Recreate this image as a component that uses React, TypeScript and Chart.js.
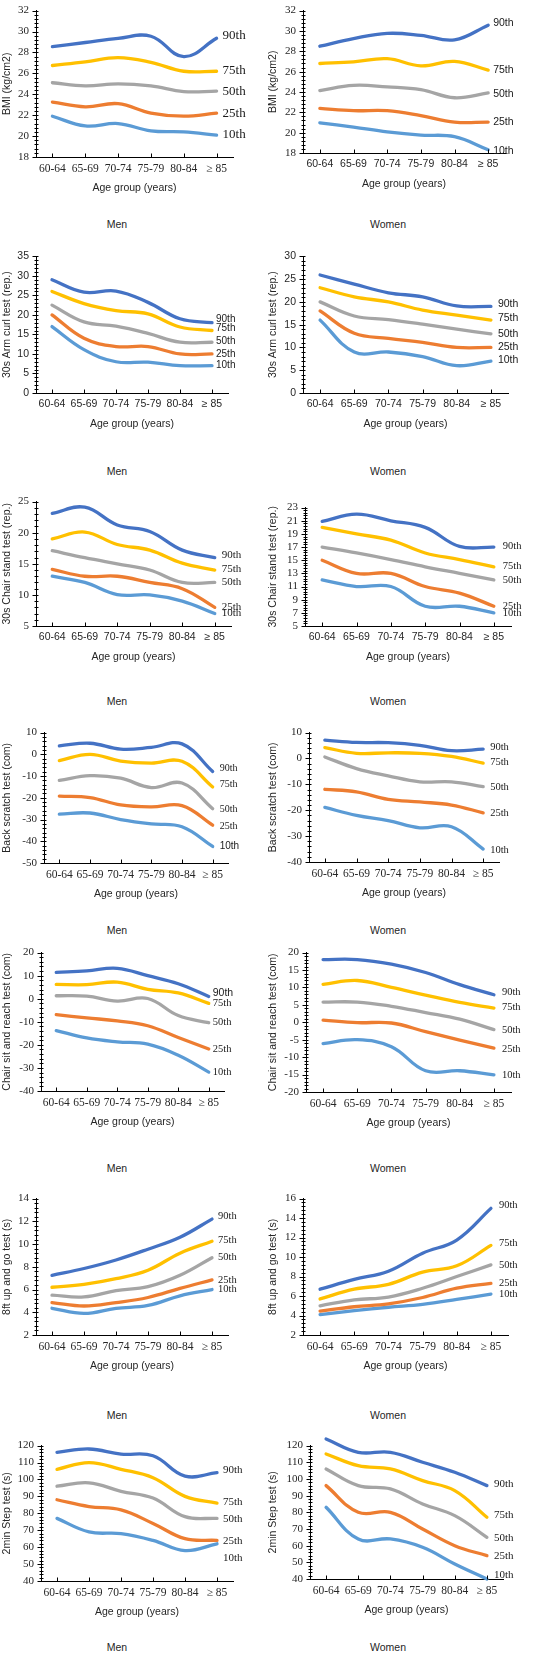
import React, { useEffect, useRef } from "react";
import { Chart, registerables } from "chart.js";

Chart.register(...registerables);

// ---------- data ----------
const ageGroups = ["60-64", "65-69", "70-74", "75-79", "80-84", "≥ 85"];
const percentiles = ["90th", "75th", "50th", "25th", "10th"];
const lineColors = ["#4472C4", "#FFC000", "#A5A5A5", "#ED7D31", "#5B9BD5"];

// rows: 90th, 75th, 50th, 25th, 10th
const bmiMen = [
  [28.55, 28.95, 29.35, 29.55, 27.6, 29.35],
  [26.75, 27.1, 27.5, 27.05, 26.2, 26.2],
  [25.1, 24.8, 25.0, 24.8, 24.25, 24.3],
  [23.25, 22.8, 23.1, 22.2, 21.9, 22.2],
  [21.9, 20.97, 21.2, 20.5, 20.4, 20.1],
];
const bmiWomen = [
  [28.5, 29.25, 29.76, 29.57, 29.12, 30.56],
  [26.8, 26.96, 27.27, 26.57, 27.0, 26.15],
  [24.14, 24.65, 24.5, 24.23, 23.43, 23.9],
  [22.38, 22.16, 22.16, 21.68, 21.04, 21.04],
  [20.97, 20.55, 20.08, 19.76, 19.6, 18.32],
];
const armMen = [
  [29, 25.8, 26.1, 23.2, 19, 18],
  [26, 22.9, 21.1, 20.25, 16.9, 16],
  [22.5, 18.2, 17.1, 15.25, 13, 13],
  [20, 14, 11.9, 11.9, 10, 10],
  [17, 11.1, 8, 7.9, 7, 7],
];
const armWomen = [
  [25.9, 23.9, 22, 21.1, 19.1, 19],
  [23.1, 21.1, 20, 18.2, 17.1, 16],
  [20, 16.9, 16.1, 15.1, 14, 13],
  [18, 13.1, 12, 11.1, 10, 10],
  [16, 9, 9, 8, 6, 7],
];
const chairMen = [
  [23.1, 24.1, 21.25, 20.2, 17.2, 16],
  [19, 20.1, 18.1, 17.2, 15.1, 14],
  [17.1, 16, 15, 14, 12, 12],
  [14.1, 13, 13, 12, 11, 8],
  [13, 12, 10.05, 10, 9, 7],
];
const chairWomen = [
  [20.9, 22, 21, 20, 17.1, 17],
  [20, 19, 18.05, 16.1, 15.1, 14],
  [17, 16.1, 15.1, 14, 13, 12],
  [15, 13, 13, 11, 10, 8],
  [12, 11, 11, 8, 8, 7],
];
const backMen = [
  [3.9, 5.1, 2.4, 3.2, 4.8, -7.9],
  [-2.9, 0, -3.1, -4, -3.2, -15],
  [-12, -9.8, -11, -15.3, -13.2, -25],
  [-19.2, -19.9, -23.3, -24.2, -23.6, -32.6],
  [-27.5, -27, -30, -32, -33.3, -42.4],
];
const backWomen = [
  [7.1, 6.2, 6.1, 5.1, 3, 3.6],
  [4.2, 2, 2.2, 2, 0.8, -1.8],
  [0.6, -3.9, -6.7, -9, -9, -10.9],
  [-11.9, -12.9, -15.8, -16.8, -18, -21],
  [-18.9, -22, -24, -26.8, -26.4, -35],
];
const reachMen = [
  [11.4, 12.1, 13.2, 10, 6.5, 1],
  [6.2, 6.1, 7.2, 4.1, 2.5, -2],
  [1.3, 1.1, -1, 0.1, -7.3, -10.4],
  [-6.9, -8.3, -9.6, -11.7, -16.8, -21.8],
  [-13.8, -17, -18.7, -19.7, -24.5, -31.8],
];
const reachWomen = [
  [18, 18, 16.7, 14.3, 10.8, 7.9],
  [10.9, 12, 10, 7.8, 5.7, 4.1],
  [5.8, 5.8, 4.6, 2.8, 0.9, -2.1],
  [0.6, -0.1, -0.2, -2.7, -5.1, -7.4],
  [-6.1, -5, -7, -13.9, -13.9, -15.1],
];
const tugMen = [
  [7.25, 7.85, 8.6, 9.55, 10.6, 12.2],
  [6.2, 6.45, 6.95, 7.7, 9.2, 10.25],
  [5.5, 5.35, 5.9, 6.25, 7.25, 8.8],
  [4.85, 4.55, 4.85, 5.3, 6.1, 6.85],
  [4.35, 3.9, 4.35, 4.6, 5.45, 6.0],
];
const tugWomen = [
  [6.7, 7.7, 8.55, 10.4, 11.75, 15],
  [5.7, 6.7, 7.2, 8.45, 9.1, 11.2],
  [5.0, 5.6, 5.9, 6.8, 8.0, 9.2],
  [4.45, 4.9, 5.2, 5.85, 6.8, 7.3],
  [4.1, 4.5, 4.85, 5.15, 5.65, 6.2],
];
const stepMen = [
  [116, 118, 115, 114, 102, 104],
  [106, 110, 106, 101, 90, 86],
  [96, 98, 93, 89, 78, 77],
  [88, 84, 82, 74, 65, 64],
  [77, 69, 68, 64, 58, 62],
];
const stepWomen = [
  [124, 116, 116, 110, 104, 96],
  [115, 108, 106, 99, 93, 77],
  [106, 96, 94, 85, 78, 65],
  [96, 80, 80, 70, 60, 54],
  [83, 64, 64, 59, 49, 40],
];

// y axis ranges: [min, max, step]
const bmiMenAxis = [18, 32, 2];
const bmiWomenAxis = [18, 32, 2];
const armMenAxis = [0, 35, 5];
const armWomenAxis = [0, 30, 5];
const chairMenAxis = [5, 25, 5];
const chairWomenAxis = [5, 23, 2];
const backMenAxis = [-50, 10, 10];
const backWomenAxis = [-40, 10, 10];
const reachMenAxis = [-40, 20, 10];
const reachWomenAxis = [-20, 20, 5];
const tugMenAxis = [2, 14, 2];
const tugWomenAxis = [2, 16, 2];
const stepMenAxis = [40, 120, 10];
const stepWomenAxis = [40, 120, 10];

const xTitle = "Age group (years)";
const captions = ["Men", "Women"];

// ---------- styles ----------
const SERIF = "'Liberation Serif', 'Times New Roman', serif";
const SANS = "'Liberation Sans', Arial, sans-serif";
const TEXT = "#262626";

type Fam = "serif" | "sans";
interface PanelSpec {
  data: number[][];
  axis: number[];
  yTitle: string;
  col: number;
  top: number;
  bottom: number;
  axisX: number;
  right: number;
  yFont: Fam;
  xFont: Fam;
  lblFonts: Fam[];
  lblSize: number;
  lblDx: number;
  lblDy: number[];
}

const S5: Fam[] = ["serif", "serif", "serif", "serif", "serif"];
const A5: Fam[] = ["sans", "sans", "sans", "sans", "sans"];

const panels: PanelSpec[] = [
  { data: bmiMen, axis: bmiMenAxis, yTitle: "BMI (kg/cm2)", col: 0, top: 7, bottom: 157, axisX: 36, right: 233,
    yFont: "serif", xFont: "serif", lblFonts: S5, lblSize: 13, lblDx: 6, lblDy: [-3, -1, 0, 0, 0] },
  { data: bmiWomen, axis: bmiWomenAxis, yTitle: "BMI (kg/cm2)", col: 1, top: 7, bottom: 153, axisX: 303, right: 505,
    yFont: "serif", xFont: "sans", lblFonts: A5, lblSize: 10.5, lblDx: 5, lblDy: [-2, 0, 1, 0, 1] },
  { data: armMen, axis: armMenAxis, yTitle: "30s Arm curl test (rep.)", col: 0, top: 253, bottom: 393, axisX: 36, right: 228,
    yFont: "sans", xFont: "sans", lblFonts: A5, lblSize: 10, lblDx: 4, lblDy: [-3.3, -2, -0.7, 0, 0] },
  { data: armWomen, axis: armWomenAxis, yTitle: "30s Arm curl test (rep.)", col: 1, top: 253, bottom: 393, axisX: 303, right: 508,
    yFont: "sans", xFont: "sans", lblFonts: A5, lblSize: 10.5, lblDx: 7, lblDy: [-2.3, -2.3, 0, 0, -0.7] },
  { data: chairMen, axis: chairMenAxis, yTitle: "30s Chair stand test (rep.)", col: 0, top: 498, bottom: 626, axisX: 36, right: 231,
    yFont: "serif", xFont: "sans", lblFonts: S5, lblSize: 11, lblDx: 7, lblDy: [-2.6, -1.3, 0, -0.7, 0] },
  { data: chairWomen, axis: chairWomenAxis, yTitle: "30s Chair stand test (rep.)", col: 1, top: 504, bottom: 626, axisX: 305, right: 511,
    yFont: "serif", xFont: "sans", lblFonts: S5, lblSize: 10.5, lblDx: 9, lblDy: [-0.7, -1, 0, 0, 0] },
  { data: backMen, axis: backMenAxis, yTitle: "Back scratch test (com)", col: 0, top: 729, bottom: 863, axisX: 44, right: 228,
    yFont: "serif", xFont: "serif", lblFonts: ["serif", "serif", "serif", "serif", "sans"], lblSize: 10, lblDx: 7, lblDy: [-3, -2.7, 1, 0.7, 0] },
  { data: backWomen, axis: backWomenAxis, yTitle: "Back scratch test (com)", col: 1, top: 729, bottom: 862, axisX: 309, right: 499,
    yFont: "serif", xFont: "serif", lblFonts: S5, lblSize: 10.5, lblDx: 7, lblDy: [-2, -1.3, 0.7, 0, 0.7] },
  { data: reachMen, axis: reachMenAxis, yTitle: "Chair sit and reach test (com)", col: 0, top: 949, bottom: 1091, axisX: 41, right: 224,
    yFont: "serif", xFont: "serif", lblFonts: ["sans", "serif", "serif", "serif", "serif"], lblSize: 10.5, lblDx: 4, lblDy: [-3.3, 0, 0, 0, 0] },
  { data: reachWomen, axis: reachWomenAxis, yTitle: "Chair sit and reach test (com)", col: 1, top: 949, bottom: 1092, axisX: 306, right: 511,
    yFont: "serif", xFont: "serif", lblFonts: S5, lblSize: 10.5, lblDx: 8, lblDy: [-2.3, -1, 0.7, 0.7, 0] },
  { data: tugMen, axis: tugMenAxis, yTitle: "8ft up and go test (s)", col: 0, top: 1195, bottom: 1335, axisX: 36, right: 228,
    yFont: "serif", xFont: "serif", lblFonts: S5, lblSize: 10.5, lblDx: 6, lblDy: [-2.7, -1.3, 0, 0, 0] },
  { data: tugWomen, axis: tugWomenAxis, yTitle: "8ft up and go test (s)", col: 1, top: 1195, bottom: 1335, axisX: 303, right: 508,
    yFont: "serif", xFont: "serif", lblFonts: S5, lblSize: 10.5, lblDx: 8, lblDy: [-2.7, -2, 0, 0, 0] },
  { data: stepMen, axis: stepMenAxis, yTitle: "2min Step test (s)", col: 0, top: 1442, bottom: 1581, axisX: 41, right: 233,
    yFont: "serif", xFont: "serif", lblFonts: S5, lblSize: 11, lblDx: 6, lblDy: [-2.7, -1.3, 0.7, 1, 14] },
  { data: stepWomen, axis: stepWomenAxis, yTitle: "2min Step test (s)", col: 1, top: 1442, bottom: 1579, axisX: 310, right: 503,
    yFont: "serif", xFont: "serif", lblFonts: S5, lblSize: 11, lblDx: 7, lblDy: [-2, -1.7, 0.7, 0.7, -4] },
];

const captionRows = [224, 471, 701, 930, 1168, 1415, 1647];
const captionX = [117, 388];

const PAD_TOP = 10;
const X_H = 37;

function fam(f: Fam) {
  return f === "serif" ? SERIF : SANS;
}

function PanelChart({ spec }: { spec: PanelSpec }) {
  const ref = useRef<HTMLCanvasElement>(null);
  const left = spec.col === 0 ? 0 : 266;
  const width = spec.col === 0 ? 266 : 291;
  const height = spec.bottom - spec.top + PAD_TOP + X_H;

  useEffect(() => {
    const canvas = ref.current;
    if (!canvas) return;
    const [mn, mx, st] = spec.axis;
    const tickVals: number[] = [];
    for (let k = 0; k <= Math.round((mx - mn) / st); k++) tickVals.push(mn + k * st);

    const deco = {
      id: "deco",
      afterDatasetsDraw(chart: any) {
        const ctx = chart.ctx;
        const ys = chart.scales.y;
        const xs = chart.scales.x;
        const area = chart.chartArea;
        ctx.save();
        ctx.strokeStyle = "#000";
        ctx.lineWidth = 1;
        ctx.beginPath();
        const ax = Math.floor(area.left) + 0.5;
        const minor = st / 5;
        const n = Math.round((mx - mn) / minor);
        for (let k = 0; k <= n; k++) {
          const v = mn + k * minor;
          const py = Math.round(ys.getPixelForValue(v)) + 0.5;
          const major = k % 5 === 0;
          ctx.moveTo(ax - (major ? 4 : 2), py);
          ctx.lineTo(ax + 2, py);
        }
        const by = Math.round(area.bottom) + 0.5;
        for (let i = 0; i < ageGroups.length; i++) {
          const px = Math.round(xs.getPixelForValue(i)) + 0.5;
          ctx.moveTo(px, by - 4);
          ctx.lineTo(px, by);
        }
        ctx.stroke();
        ctx.fillStyle = "#1a1a1a";
        ctx.textAlign = "left";
        ctx.textBaseline = "middle";
        for (let i = 0; i < percentiles.length; i++) {
          const meta = chart.getDatasetMeta(i);
          const pt = meta.data[meta.data.length - 1];
          ctx.font = `${spec.lblSize}px ${fam(spec.lblFonts[i])}`;
          ctx.fillText(percentiles[i], pt.x + spec.lblDx, pt.y + spec.lblDy[i]);
        }
        ctx.restore();
      },
    };

    const chart = new Chart(canvas, {
      type: "line",
      data: {
        labels: ageGroups,
        datasets: spec.data.map((row, i) => ({
          label: percentiles[i],
          data: row,
          borderColor: lineColors[i],
          backgroundColor: lineColors[i],
          borderWidth: 3.3,
          pointRadius: 0,
          tension: 0.4,
          fill: false,
          clip: false as any,
          borderCapStyle: "round" as const,
        })),
      },
      options: {
        animation: false,
        responsive: false,
        maintainAspectRatio: false,
        layout: {
          padding: { top: PAD_TOP, left: 0, bottom: 0, right: width - (spec.right - left) },
        },
        plugins: {
          legend: { display: false },
          tooltip: { enabled: false },
          title: { display: false },
        },
        scales: {
          x: {
            type: "category",
            offset: true,
            grid: { display: true, drawOnChartArea: false, drawTicks: false },
            border: { display: true, color: "#000", width: 1 },
            ticks: {
              color: TEXT,
              padding: 5,
              maxRotation: 0,
              autoSkip: false,
              font: { family: fam(spec.xFont), size: spec.xFont === "serif" ? 11.5 : 10.5 },
            },
            title: {
              display: true,
              text: xTitle,
              color: TEXT,
              padding: { top: 0, bottom: 0 },
              font: { family: SANS, size: 10.5 },
            },
            afterFit: (s: any) => {
              s.height = X_H;
            },
          },
          y: {
            min: mn,
            max: mx,
            grid: { display: true, drawOnChartArea: false, drawTicks: false },
            border: { display: true, color: "#000", width: 1 },
            ticks: {
              stepSize: st,
              color: TEXT,
              padding: 7,
              autoSkip: false,
              font: { family: fam(spec.yFont), size: spec.yFont === "serif" ? 11 : 10.5 },
            },
            afterBuildTicks: (s: any) => {
              s.ticks = tickVals.map((v) => ({ value: v }));
            },
            title: {
              display: true,
              text: spec.yTitle,
              color: TEXT,
              padding: { top: 1, bottom: 0 },
              font: { family: SANS, size: 10.5 },
            },
            afterFit: (s: any) => {
              s.width = spec.axisX - left;
            },
          },
        },
      },
      plugins: [deco],
    } as any);
    return () => chart.destroy();
  }, [spec]);

  return (
    <canvas
      ref={ref}
      width={width}
      height={height}
      style={{ position: "absolute", left, top: spec.top - PAD_TOP, width, height }}
    />
  );
}

export default function App() {
  return (
    <div
      style={{
        position: "absolute",
        left: 0,
        top: 0,
        width: 557,
        height: 1654,
        background: "#fff",
        overflow: "hidden",
      }}
    >
      {panels.map((p, i) => (
        <PanelChart key={i} spec={p} />
      ))}
      {captionRows.map((y, r) =>
        captions.map((c, ci) => (
          <div
            key={`${r}-${ci}`}
            style={{
              position: "absolute",
              left: captionX[ci],
              top: y,
              transform: "translate(-50%, -50%)",
              fontFamily: SANS,
              fontSize: 10.5,
              color: TEXT,
              whiteSpace: "nowrap",
            }}
          >
            {c}
          </div>
        ))
      )}
    </div>
  );
}
